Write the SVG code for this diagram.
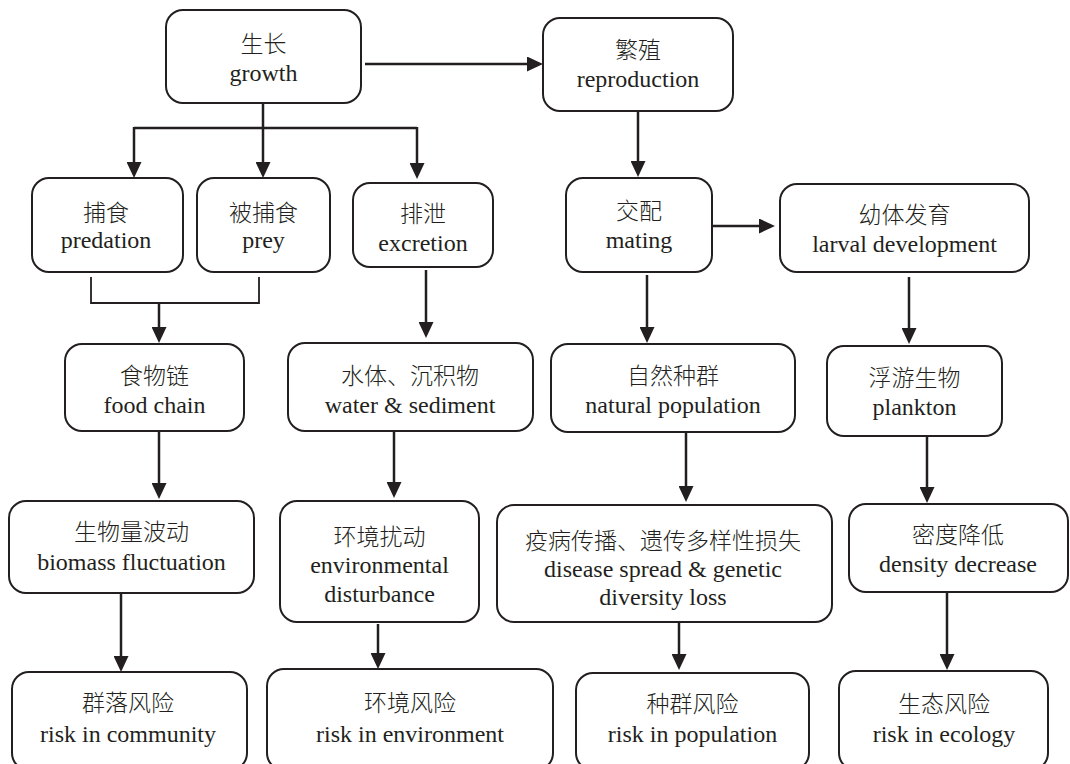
<svg xmlns="http://www.w3.org/2000/svg" width="1070" height="764" viewBox="0 0 1070 764" font-family="Liberation Serif, Times New Roman, DejaVu Serif, serif">
<style>
.box{fill:#fff;stroke:#231f20;stroke-width:2}
text{font-size:24px;fill:#231f20;text-anchor:middle}
.zh{font-family:Noto Sans CJK SC, sans-serif;font-size:23px;font-weight:300}
.ln{fill:none;stroke:#231f20;stroke-width:2.5}
.thin{fill:none;stroke:#231f20;stroke-width:1.8}
</style>
<defs>
<marker id="ah" markerUnits="userSpaceOnUse" markerWidth="16" markerHeight="15" refX="8" refY="7.5" orient="auto">
<path d="M0,0 L16,7.5 L0,15 z" fill="#231f20"/>
</marker>
</defs>
<rect width="1070" height="764" fill="#fff"/>
<g id="connectors">
<line class="ln" x1="365" y1="64" x2="535" y2="64" marker-end="url(#ah)"/>
<polyline class="ln" points="263,103 263,128"/>
<polyline class="ln" points="134,128 417,128"/>
<line class="ln" x1="134" y1="127" x2="134" y2="170" marker-end="url(#ah)"/>
<line class="ln" x1="263" y1="127" x2="263" y2="170" marker-end="url(#ah)"/>
<line class="ln" x1="417" y1="127" x2="417" y2="171" marker-end="url(#ah)"/>
<polyline class="thin" points="91,277 91,303 259,303 259,277"/>
<line class="ln" x1="159" y1="303" x2="159" y2="335" marker-end="url(#ah)"/>
<line class="ln" x1="426" y1="270" x2="426" y2="330" marker-end="url(#ah)"/>
<line class="ln" x1="638" y1="111" x2="638" y2="169" marker-end="url(#ah)"/>
<line class="ln" x1="713" y1="226" x2="767" y2="226" marker-end="url(#ah)"/>
<line class="ln" x1="647" y1="275" x2="647" y2="335" marker-end="url(#ah)"/>
<line class="ln" x1="909" y1="277" x2="909" y2="336" marker-end="url(#ah)"/>
<line class="ln" x1="159" y1="431" x2="159" y2="491" marker-end="url(#ah)"/>
<line class="ln" x1="394" y1="431" x2="394" y2="490" marker-end="url(#ah)"/>
<line class="ln" x1="686" y1="432" x2="686" y2="494" marker-end="url(#ah)"/>
<line class="ln" x1="927" y1="436" x2="927" y2="495" marker-end="url(#ah)"/>
<line class="ln" x1="121" y1="593" x2="121" y2="664" marker-end="url(#ah)"/>
<line class="ln" x1="378" y1="624" x2="378" y2="661" marker-end="url(#ah)"/>
<line class="ln" x1="679" y1="623" x2="679" y2="662" marker-end="url(#ah)"/>
<line class="ln" x1="947" y1="592" x2="947" y2="662" marker-end="url(#ah)"/>
</g>
<g id="growth"><rect class="box" x="166" y="10" width="195" height="93" rx="17"/><text class="zh" x="263.5" y="52">生长</text><text class="en" x="263.5" y="81">growth</text></g>
<g id="reproduction"><rect class="box" x="543" y="18" width="190" height="93" rx="17"/><text class="zh" x="638" y="58">繁殖</text><text class="en" x="638" y="87">reproduction</text></g>
<g id="predation"><rect class="box" x="32" y="178" width="151" height="94" rx="17"/><text class="zh" x="106" y="221">捕食</text><text class="en" x="106" y="248">predation</text></g>
<g id="prey"><rect class="box" x="197" y="178" width="133" height="94" rx="17"/><text class="zh" x="263.5" y="221">被捕食</text><text class="en" x="263.5" y="248">prey</text></g>
<g id="excretion"><rect class="box" x="353" y="183" width="140" height="84" rx="17"/><text class="zh" x="423" y="222">排泄</text><text class="en" x="423" y="251">excretion</text></g>
<g id="mating"><rect class="box" x="566" y="178" width="146" height="94" rx="17"/><text class="zh" x="639" y="219">交配</text><text class="en" x="639" y="248">mating</text></g>
<g id="larval"><rect class="box" x="780" y="184" width="249" height="88" rx="17"/><text class="zh" x="904.5" y="223">幼体发育</text><text class="en" x="904.5" y="252">larval development</text></g>
<g id="foodchain"><rect class="box" x="65" y="344" width="179" height="87" rx="17"/><text class="zh" x="154.5" y="384">食物链</text><text class="en" x="154.5" y="413">food chain</text></g>
<g id="water"><rect class="box" x="288" y="343" width="245" height="88" rx="17"/><text class="zh" x="410" y="384">水体、沉积物</text><text class="en" x="410" y="413">water &amp; sediment</text></g>
<g id="natural"><rect class="box" x="551" y="344" width="244" height="88" rx="17"/><text class="zh" x="673" y="384">自然种群</text><text class="en" x="673" y="413">natural population</text></g>
<g id="plankton"><rect class="box" x="827" y="346" width="175" height="90" rx="17"/><text class="zh" x="914.5" y="386">浮游生物</text><text class="en" x="914.5" y="415">plankton</text></g>
<g id="biomass"><rect class="box" x="9" y="501" width="245" height="92" rx="17"/><text class="zh" x="131.5" y="540">生物量波动</text><text class="en" x="131.5" y="570">biomass fluctuation</text></g>
<g id="envdist"><rect class="box" x="280" y="501" width="199" height="121" rx="17"/><text class="zh" x="379.5" y="545">环境扰动</text><text class="en" x="379.5" y="573">environmental</text><text class="en" x="379.5" y="602">disturbance</text></g>
<g id="disease"><rect class="box" x="497" y="505" width="335" height="117" rx="17"/><text class="zh" x="663" y="549">疫病传播、遗传多样性损失</text><text class="en" x="663" y="577">disease spread &amp; genetic</text><text class="en" x="663" y="605">diversity loss</text></g>
<g id="density"><rect class="box" x="849" y="504" width="219" height="88" rx="17"/><text class="zh" x="958" y="543">密度降低</text><text class="en" x="958" y="572">density decrease</text></g>
<g id="community"><rect class="box" x="12" y="672" width="235" height="98" rx="17"/><text class="zh" x="128" y="711">群落风险</text><text class="en" x="128" y="742">risk in community</text></g>
<g id="environment"><rect class="box" x="267" y="669" width="286" height="101" rx="17"/><text class="zh" x="410" y="711">环境风险</text><text class="en" x="410" y="742">risk in environment</text></g>
<g id="population"><rect class="box" x="576" y="673" width="233" height="97" rx="17"/><text class="zh" x="692.5" y="712">种群风险</text><text class="en" x="692.5" y="742">risk in population</text></g>
<g id="ecology"><rect class="box" x="839" y="671" width="209" height="99" rx="17"/><text class="zh" x="944" y="712">生态风险</text><text class="en" x="944" y="742">risk in ecology</text></g>
</svg>
